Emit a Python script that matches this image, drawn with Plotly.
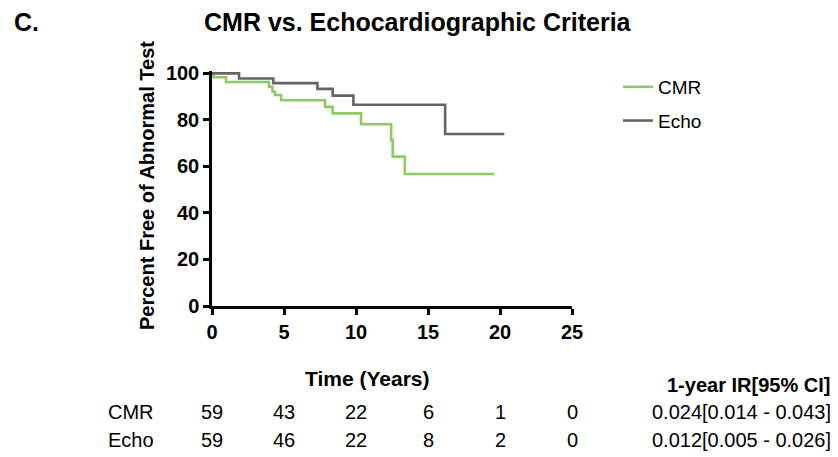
import plotly.graph_objects as go

# ---- data ----
cmr_time = [0, 0.1, 0.97, 3.96, 4.2, 4.38, 4.8, 7.85, 8.38, 10.35, 12.44, 12.55, 13.39, 19.6]
cmr_surv = [100, 98.3, 96.3, 94.2, 92.1, 90.7, 88.4, 85.6, 82.8, 78.1, 71.3, 64.2, 56.7, 56.7]

echo_time = [0, 1.88, 4.26, 7.32, 8.38, 9.82, 16.19, 20.3]
echo_surv = [100, 97.8, 95.8, 93.3, 90.4, 86.5, 73.9, 73.9]

risk_times = [0, 5, 10, 15, 20, 25]
risk_cmr = [59, 43, 22, 6, 1, 0]
risk_echo = [59, 46, 22, 8, 2, 0]
ir_cmr = "0.024[0.014 - 0.043]"
ir_echo = "0.012[0.005 - 0.026]"

x_ticks = [0, 5, 10, 15, 20, 25]
y_ticks = [0, 20, 40, 60, 80, 100]

GREEN = "#8dc965"
GRAY = "#646464"
FONT = "Liberation Sans, Arial, sans-serif"

W, H = 838, 457
ML, MR, MT, MB = 212, 266, 71, 151


def py(p):  # pixel y -> paper y
    return (H - MB - p) / (H - MT - MB)


def px(p):  # pixel x -> paper x
    return (p - ML) / (W - ML - MR)


fig = go.Figure()
fig.add_trace(go.Scatter(x=cmr_time, y=cmr_surv, mode="lines", name="CMR",
                         line=dict(color=GREEN, width=2.6, shape="hv"),
                         legendgroup="a"))
fig.add_trace(go.Scatter(x=echo_time, y=echo_surv, mode="lines", name="Echo",
                         line=dict(color=GRAY, width=2.6, shape="hv"),
                         legendgroup="b"))

ann = []
ann.append(dict(text="<b>C.</b>", x=px(12), y=py(22), xref="paper", yref="paper",
                xanchor="left", yanchor="middle", showarrow=False,
                font=dict(size=25, family=FONT, color="black")))
ann.append(dict(text="<b>CMR vs. Echocardiographic Criteria</b>", x=px(418), y=py(22),
                xref="paper", yref="paper", xanchor="center", yanchor="middle",
                showarrow=False, font=dict(size=25, family=FONT, color="black")))
ann.append(dict(text="<b>Percent Free of Abnormal Test</b>", x=px(147), y=py(186),
                xref="paper", yref="paper", xanchor="center", yanchor="middle",
                textangle=-90, showarrow=False,
                font=dict(size=20, family=FONT, color="black")))
ann.append(dict(text="<b>Time (Years)</b>", x=px(367), y=py(378),
                xref="paper", yref="paper", xanchor="center", yanchor="middle",
                showarrow=False, font=dict(size=21, family=FONT, color="black")))
ann.append(dict(text="<b>1-year IR[95% CI]</b>", x=px(832), y=py(385),
                xref="paper", yref="paper", xanchor="right", yanchor="middle",
                showarrow=False, font=dict(size=20, family=FONT, color="black")))

rows = [("CMR", risk_cmr, ir_cmr, 412), ("Echo", risk_echo, ir_echo, 440)]
for label, vals, ir, ypix in rows:
    ann.append(dict(text=label, x=px(106), y=py(ypix), xref="paper", yref="paper",
                    xanchor="left", yanchor="middle", showarrow=False,
                    font=dict(size=20, family=FONT, color="black")))
    for t, v in zip(risk_times, vals):
        ann.append(dict(text=str(v), x=t, y=py(ypix), xref="x", yref="paper",
                        xanchor="center", yanchor="middle", showarrow=False,
                        font=dict(size=20, family=FONT, color="black")))
    ann.append(dict(text=ir, x=px(833), y=py(ypix), xref="paper", yref="paper",
                    xanchor="right", yanchor="middle", showarrow=False,
                    font=dict(size=20, family=FONT, color="black")))

fig.update_layout(
    width=W, height=H,
    margin=dict(l=ML, r=MR, t=MT, b=MB, pad=0),
    paper_bgcolor="white", plot_bgcolor="white",
    showlegend=True,
    legend=dict(x=px(618), y=py(68), xanchor="left", yanchor="top",
                font=dict(size=19, family=FONT, color="black"),
                bgcolor="rgba(0,0,0,0)", tracegroupgap=6, itemwidth=30),
    annotations=ann,
    xaxis=dict(range=[0, 25], tickvals=x_ticks, ticktext=[str(v) for v in x_ticks],
               showgrid=False, zeroline=False, showline=True, linecolor="black",
               linewidth=2.5, ticks="outside", ticklen=6, tickwidth=2.5,
               tickcolor="black",
               tickfont=dict(size=20, family=FONT, color="black", weight="bold")),
    yaxis=dict(range=[0, 101], tickvals=y_ticks, ticktext=[str(v) for v in y_ticks],
               showgrid=False, zeroline=False, showline=True, linecolor="black",
               linewidth=2.5, ticks="outside", ticklen=6, tickwidth=2.5,
               tickcolor="black",
               tickfont=dict(size=20, family=FONT, color="black", weight="bold")),
)

fig.write_html("out.html",
               config={"displayModeBar": False},
               post_script="document.body.style.margin='0px';document.body.style.overflow='hidden';")
